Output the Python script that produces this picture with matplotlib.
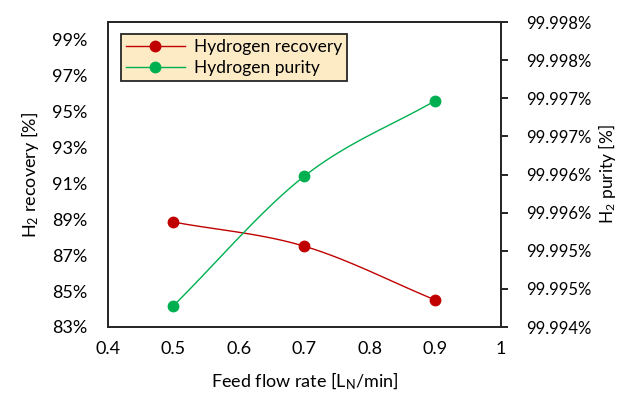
import numpy as np
import matplotlib
matplotlib.use("Agg")
import matplotlib.pyplot as plt
from matplotlib.lines import Line2D

plt.rcParams['font.family'] = ['Lato', 'DejaVu Sans']
plt.rcParams['mathtext.fontset'] = 'custom'
plt.rcParams['mathtext.rm'] = 'Lato'
plt.rcParams['mathtext.it'] = 'Lato:italic'

flow = [0.5, 0.7, 0.9]
recovery = [88.85, 87.5, 84.5]          # %
purity = [99.99428, 99.99598, 99.99697]  # %

left_ticks = [83, 85, 87, 89, 91, 93, 95, 97, 99]
right_ticks = [99.9940, 99.9945, 99.9950, 99.9955, 99.9960, 99.9965, 99.9970, 99.9975, 99.9980]
right_labels = ['99.994%', '99.995%', '99.995%', '99.996%', '99.996%',
                '99.997%', '99.997%', '99.998%', '99.998%']

red = '#C00000'
green = '#00B050'


def smooth(xs, ys, n=40, t=0.5):
    # cardinal spline through the points, like Excel's smoothed line
    xs = np.asarray(xs, float)
    ys = np.asarray(ys, float)
    px = np.r_[2 * xs[0] - xs[1], xs, 2 * xs[-1] - xs[-2]]
    py = np.r_[2 * ys[0] - ys[1], ys, 2 * ys[-1] - ys[-2]]
    ox, oy = [], []
    s = np.linspace(0, 1, n)
    for i in range(1, len(px) - 2):
        m0x = t * (px[i + 1] - px[i - 1]); m1x = t * (px[i + 2] - px[i])
        m0y = t * (py[i + 1] - py[i - 1]); m1y = t * (py[i + 2] - py[i])
        h00 = 2 * s**3 - 3 * s**2 + 1; h10 = s**3 - 2 * s**2 + s
        h01 = -2 * s**3 + 3 * s**2; h11 = s**3 - s**2
        ox.append(h00 * px[i] + h10 * m0x + h01 * px[i + 1] + h11 * m1x)
        oy.append(h00 * py[i] + h10 * m0y + h01 * py[i + 1] + h11 * m1y)
    return np.concatenate(ox), np.concatenate(oy)


fig = plt.figure(figsize=(6.21, 3.95), dpi=100)
ax = fig.add_axes([108 / 621, 1 - 327 / 395, (501 - 108) / 621, (327 - 22) / 395])
ax2 = ax.twinx()

sx, sy = smooth(flow, recovery)
ax.plot(sx, sy, color=red, lw=1.0)
ax.plot(flow, recovery, 'o', color=red, ms=7.5)

sx, sy = smooth(flow, purity)
ax2.plot(sx, sy, color=green, lw=1.0)
ax2.plot(flow, purity, 'o', color=green, ms=7.5)

ax.set_xlim(0.4, 1.0)
ax.set_ylim(83, 100)
ax2.set_ylim(99.994, 99.998)

ax.set_xticks([0.4, 0.5, 0.6, 0.7, 0.8, 0.9, 1.0])
ax.set_xticklabels(['0.4', '0.5', '0.6', '0.7', '0.8', '0.9', '1'])
ax.set_yticks(left_ticks)
ax.set_yticklabels([f'{v}%' for v in left_ticks])
ax2.set_yticks(right_ticks)
ax2.set_yticklabels(right_labels)

ax.tick_params(axis='x', length=0, labelsize=13, pad=10)
ax.tick_params(axis='y', length=0, labelsize=13, pad=15)
ax2.tick_params(axis='y', length=5, width=1.2, direction='out', labelsize=12, pad=13)

for a in (ax, ax2):
    for sp in a.spines.values():
        sp.set_color('#262626')
        sp.set_linewidth(1.3)

ax.set_xlabel('Feed flow rate [L$_\\mathrm{N}$/min]', fontsize=13, labelpad=10)
ax.set_ylabel('H$_2$ recovery [%]', fontsize=13, labelpad=8)
ax2.set_ylabel('H$_2$ purity [%]', fontsize=12.5, labelpad=3)

handles = [Line2D([], [], color=red, lw=1.0, marker='o', ms=7.5),
           Line2D([], [], color=green, lw=1.0, marker='o', ms=7.5)]
leg = ax.legend(handles, ['Hydrogen recovery', 'Hydrogen purity'],
                loc='upper left', bbox_to_anchor=(0.01, 0.99), fontsize=12.5,
                fancybox=False, framealpha=1, handlelength=3.4,
                borderpad=0.3, labelspacing=0.3, handletextpad=0.5)
leg.get_frame().set_facecolor('#FDEBC6')
leg.get_frame().set_edgecolor('#262626')
leg.get_frame().set_linewidth(1.3)

fig.savefig('out.png', dpi=100)
